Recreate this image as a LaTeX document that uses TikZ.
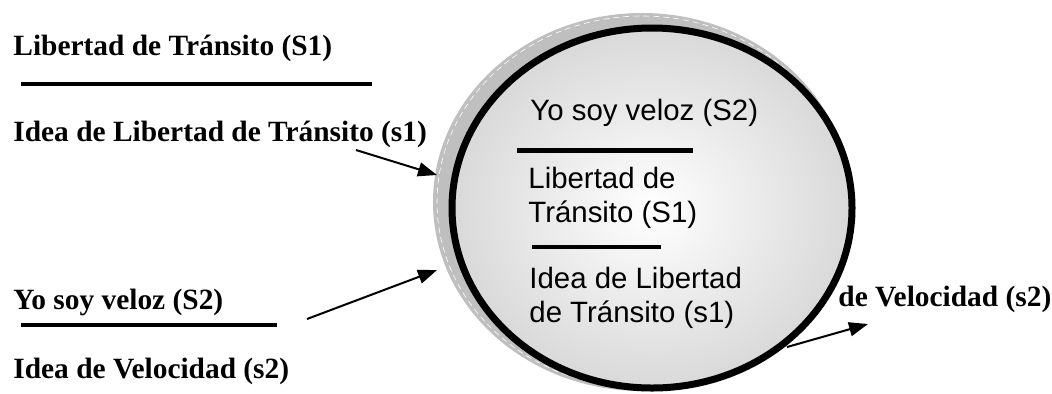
\documentclass[tikz,border=0pt]{standalone}
\usepackage{fontspec}
\setmainfont{Liberation Serif}
\newfontfamily\arialf{Liberation Sans}
\usetikzlibrary{shapes.geometric,arrows.meta}
\begin{document}
\begin{tikzpicture}[x=0.5pt,y=-0.5pt,
  lbl/.style={anchor=base west,inner sep=0pt,font=\fontsize{14.7}{17}\selectfont\bfseries},
  inl/.style={anchor=base west,inner sep=0pt,font=\fontsize{14.7}{17}\selectfont\arialf},
  bar/.style={line width=2.2pt},
  thinbar/.style={line width=1.6pt},
  arr/.style={line width=1pt,-{Triangle[length=9.5pt,width=7pt]}},
  oval/.style={ellipse,inner sep=0pt}]
\useasboundingbox (0,0) rectangle (1052,393);
% left labels
\node[lbl] (t1) at (13,55) {Libertad de Tránsito (S1)};
\draw[bar] (21,84) -- (372,84);
\node[lbl] (t2) at (13,141) {Idea de Libertad de Tránsito (s1)};
\node[lbl] (t3) at (13,309) {Yo soy veloz (S2)};
\draw[bar] (21,325) -- (277,325);
\node[lbl] (t4) at (13,378) {Idea de Velocidad (s2)};
\node[lbl] (t5) at (838,306) {de Velocidad (s2)};
% ellipse with shadow
\node[oval,fill=gray!50,minimum width=209pt,minimum height=189pt] (shadow) at (642,202) {};
\node[oval,draw=white,densely dashed,line width=0.3pt,minimum width=205pt,minimum height=186pt] (shadowedge) at (642,202) {};
\node[oval,draw=black,line width=3.5pt,inner color=white,outer color=gray!30,minimum width=200pt,minimum height=180pt] (circ) at (652,208) {};
% inner texts
\node[inl] (i1) at (530,120) {Yo soy veloz (S2)};
\draw[line width=2.5pt] (517,150) -- (693,150);
\node[inl] (i2) at (528,188) {Libertad de};
\node[inl] (i3) at (528,222) {Tránsito (S1)};
\draw[thinbar] (532,247) -- (661,247);
\node[inl] (i4) at (529,288) {Idea de Libertad};
\node[inl] (i5) at (529,322) {de Tránsito (s1)};
% arrows
\coordinate (a1s) at (356,150); \coordinate (a1e) at (437,175);
\coordinate (a2s) at (307,319); \coordinate (a2e) at (437,270);
\coordinate (a3s) at (787,347); \coordinate (a3e) at (868,324);
\draw[arr] (a1s) -- (a1e);
\draw[arr] (a2s) -- (a2e);
\draw[arr] (a3s) -- (a3e);
\end{tikzpicture}
\end{document}
